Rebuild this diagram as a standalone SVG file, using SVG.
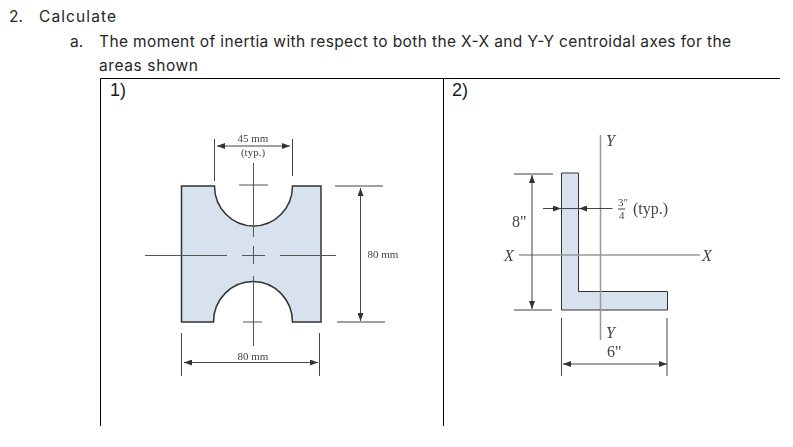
<svg xmlns="http://www.w3.org/2000/svg" width="793" height="447" viewBox="0 0 793 447">
<style>
.t{font-family:Inter,"Open Sans",sans-serif;font-size:15.500px;fill:#262626}
.h{font-family:"Liberation Sans",Arial,sans-serif;font-size:18px;fill:#1a1a1a}
.s{font-family:"Liberation Serif","Times New Roman",serif;fill:#444}
.f{fill:#d8e2ef;stroke:#333}
.d{stroke:#444;stroke-width:1;fill:none}
.c{stroke:#555;stroke-width:1;fill:none}
.g{stroke:#999;stroke-width:1.500;fill:none}
.tb{stroke:#000;stroke-width:1;fill:none}
</style>
<defs>
<marker id="a" markerWidth="8" markerHeight="6" refX="8" refY="3" orient="auto-start-reverse" markerUnits="userSpaceOnUse"><path d="M0 0L8 3L0 6Z" fill="#333"/></marker>
<filter id="b" x="-5%" y="-5%" width="110%" height="110%"><feGaussianBlur stdDeviation="0.350"/></filter>
</defs>
<rect width="793" height="447" fill="#fff"/>
<g id="heading">
<text class="t" x="9" y="22">2.</text>
<text class="t" x="39" y="22" textLength="77">Calculate</text>
<text class="t" x="70" y="47">a.</text>
<text class="t" x="99" y="47" textLength="632">The moment of inertia with respect to both the X-X and Y-Y centroidal axes for the</text>
<text class="t" x="99" y="71" textLength="99">areas shown</text>
</g>
<g id="table">
<path class="tb" d="M100.500 426V78.500H780M443.500 78.500V426"/>
<text class="h" x="110" y="96">1)</text>
<text class="h" x="452" y="96">2)</text>
</g>
<g filter="url(#b)">
<g id="area1">
<path class="f" stroke-width="1.500" d="M181.500 186H214.500A39 40 0 0 0 292.500 186H321V322H292.500A39 40 0 0 0 213.500 322H181.500Z"/>
</g>
<g id="area2">
<path class="f" stroke-width="1" d="M561.500 173H578.500V291.500H667.500V310H561.500Z"/>
</g>
<g id="connectors">
<path class="c" d="M253.500 163V237M253.500 246V264M253.500 276V346M239 185H268M243 322H262M145 255.500H227M242 255.500H265M280 255.500H336"/>
<path class="d" d="M214.500 139V181M292.500 139V176M181.500 333V376M319.500 333V376M335 186H383M337 322H385"/>
<path class="d" marker-start="url(#a)" marker-end="url(#a)" d="M217 146H290"/>
<path class="d" marker-start="url(#a)" marker-end="url(#a)" d="M184 362.500H318"/>
<path class="d" marker-start="url(#a)" marker-end="url(#a)" d="M360.500 188V321"/>
<path class="g" d="M600.500 135V340M519 255H700"/>
<path class="d" d="M514 174H553M514 310H552M561.500 318V376M667 318V376M561 208.500H579"/>
<path class="d" marker-start="url(#a)" marker-end="url(#a)" d="M532 175V309"/>
<path class="d" marker-end="url(#a)" d="M543 208.500H561"/>
<path class="d" marker-end="url(#a)" d="M612.500 208.500H579"/>
<path class="d" marker-start="url(#a)" marker-end="url(#a)" d="M563 364H667"/>
</g>
<g id="labels">
<text class="s" font-size="11" x="253" y="142" text-anchor="middle">45 mm</text>
<text class="s" font-size="11" x="253" y="156" text-anchor="middle">(typ.)</text>
<text class="s" font-size="11" x="253" y="360" text-anchor="middle">80 mm</text>
<text class="s" font-size="11" x="383" y="258" text-anchor="middle">80 mm</text>
<text class="s" font-size="16" font-style="italic" x="606" y="146">Y</text>
<text class="s" font-size="16" font-style="italic" x="606" y="338">Y</text>
<text class="s" font-size="16" font-style="italic" x="504" y="261">X</text>
<text class="s" font-size="16" font-style="italic" x="702" y="261">X</text>
<text class="s" font-size="16" x="512" y="227">8"</text>
<text class="s" font-size="16" x="607" y="357">6"</text>
<text class="s" font-size="11" x="618" y="206">3"</text>
<path class="d" d="M618 209H625"/>
<text class="s" font-size="11" x="619" y="219">4</text>
<text class="s" font-size="16" x="633" y="214">(typ.)</text>
</g>
</g>
</svg>
